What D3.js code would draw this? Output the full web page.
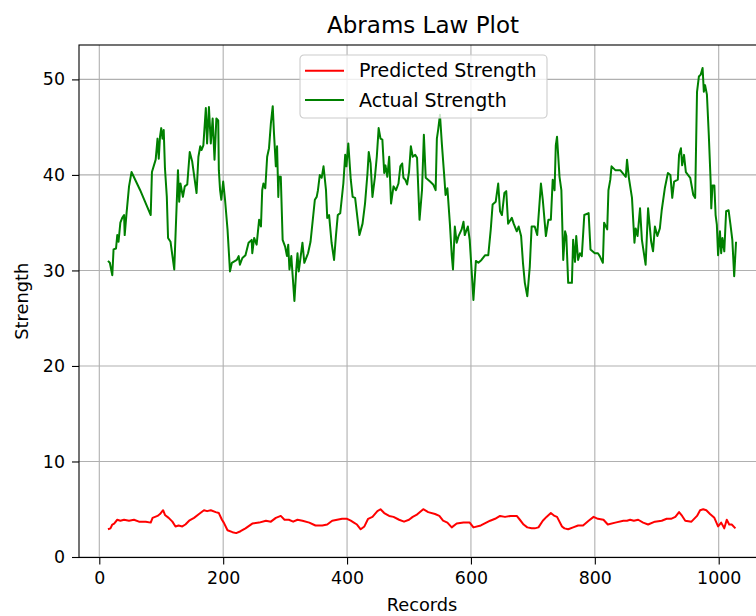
<!DOCTYPE html>
<html>
<head>
<meta charset="utf-8">
<script src="https://cdn.jsdelivr.net/npm/d3@7"></script>
<style>
    body { margin: 0; background: #fff; }
    svg { display: block; font-family: "DejaVu Sans", sans-serif; }
</style>
</head>
<body>
<div id="chart"></div>
<script>
// values
let xTicks = [0, 200, 400, 600, 800, 1000];
let yTicks = [0, 10, 20, 30, 40, 50];

let predictedRecords = [14, 18, 21, 24, 29, 34, 40, 48, 56, 64, 75, 83, 86, 94, 98, 103, 106, 112, 118, 123, 128, 134, 139,
    145, 153, 161, 169, 174, 180, 188, 193, 198, 201, 207, 215, 221, 228, 236, 247, 258, 269, 277, 285, 293, 299, 306, 313,
    320, 328, 339, 349, 360, 368, 376, 384, 392, 400, 406, 411, 416, 422, 428, 434, 441, 449, 454, 460, 468, 475, 484, 492,
    500, 506, 512, 523, 531, 542, 549, 555, 562, 569, 577, 588, 598, 604, 616, 631, 639, 647, 655, 664, 674, 679, 685, 691,
    698, 703, 709, 716, 722, 729, 735, 739, 747, 751, 757, 765, 773, 781, 790, 798, 805, 814, 821, 833, 846, 852, 857, 863,
    870, 878, 886, 897, 908, 916, 923, 930, 936, 941, 946, 956, 965, 970, 975, 980, 986, 993, 999, 1004, 1009, 1013, 1017,
    1021, 1027];
let predictedValues = [2.9, 3.0, 3.4, 3.5, 3.9, 3.8, 3.9, 3.8, 3.9, 3.7, 3.7, 3.6, 4.1, 4.3, 4.5, 4.9, 4.4, 4.1, 3.7, 3.2,
    3.3, 3.2, 3.4, 3.8, 4.1, 4.5, 4.9, 4.8, 4.9, 4.7, 4.6, 3.9, 3.6, 2.8, 2.6, 2.5, 2.7, 3.0, 3.5, 3.6, 3.8, 3.7, 4.1, 4.3,
    3.9, 3.9, 3.7, 3.9, 3.8, 3.6, 3.3, 3.3, 3.4, 3.8, 3.9, 4.0, 4.0, 3.8, 3.6, 3.4, 2.9, 3.2, 4.0, 4.2, 4.8, 5.0, 4.6, 4.3,
    4.2, 3.9, 3.7, 3.9, 4.2, 4.4, 5.0, 4.7, 4.5, 4.3, 3.8, 3.6, 3.1, 3.5, 3.6, 3.6, 3.1, 3.3, 3.8, 4.0, 4.3, 4.2, 4.3, 4.3,
    3.9, 3.4, 3.1, 3.0, 3.0, 3.1, 3.8, 4.2, 4.6, 4.3, 4.2, 3.2, 3.0, 2.9, 3.1, 3.3, 3.3, 3.8, 4.2, 4.0, 3.9, 3.4, 3.6, 3.8,
    3.8, 3.9, 3.8, 3.9, 3.6, 3.4, 3.7, 3.8, 4.0, 4.0, 4.2, 4.7, 4.3, 3.8, 3.7, 4.3, 4.9, 5.0, 4.9, 4.5, 4.1, 3.2, 3.6, 3.0,
    3.9, 3.4, 3.4, 3.0];

let actualRecords = [14, 17, 21, 23, 27, 29, 31, 34, 37, 40, 41, 44, 48, 52, 66, 83, 85, 91, 94, 96, 98, 100, 102, 104, 106,
    109, 111, 115, 121, 127, 129, 131, 135, 138, 142, 146, 150, 157, 160, 163, 165, 168, 172, 174, 177, 180, 183, 186, 189,
    192, 193, 195, 197, 200, 203, 207, 211, 214, 222, 225, 227, 231, 236, 241, 246, 247, 250, 254, 258, 261, 263, 265, 268,
    271, 274, 277, 280, 282, 285, 287, 289, 290, 293, 296, 300, 303, 305, 307, 310, 312, 315, 318, 320, 322, 328, 331, 337,
    341, 345, 348, 351, 353, 356, 359, 362, 366, 368, 371, 375, 379, 382, 385, 389, 394, 397, 399, 402, 406, 409, 413, 420,
    425, 429, 433, 435, 438, 441, 445, 448, 451, 454, 457, 460, 462, 465, 468, 471, 475, 479, 483, 486, 489, 491, 494, 497,
    500, 503, 506, 510, 513, 517, 521, 524, 527, 534, 539, 543, 545, 547, 550, 553, 557, 559, 562, 566, 569, 571, 574, 577,
    580, 585, 588, 590, 595, 598, 601, 604, 608, 612, 617, 623, 628, 632, 635, 640, 644, 647, 650, 654, 657, 660, 666, 669,
    674, 677, 681, 684, 687, 691, 695, 698, 703, 707, 713, 716, 721, 725, 729, 732, 735, 737, 739, 743, 746, 749, 752, 754,
    757, 763, 765, 768, 770, 773, 776, 779, 783, 790, 793, 800, 805, 808, 813, 815, 820, 822, 825, 827, 833, 841, 850, 852,
    855, 860, 864, 866, 869, 873, 876, 882, 886, 891, 894, 897, 901, 905, 908, 913, 918, 922, 925, 928, 934, 936, 939, 941,
    944, 947, 954, 959, 962, 965, 968, 971, 974, 976, 978, 981, 984, 987, 988, 990, 993, 995, 997, 999, 1002, 1004, 1006,
    1009, 1012, 1016, 1019, 1022, 1025, 1028];
let actualValues = [31.0, 30.8, 29.5, 32.2, 32.3, 33.7, 33.0, 35.0, 35.5, 35.8, 33.7, 36.0, 38.8, 40.3, 38.4, 35.8, 40.3,
    41.6, 43.8, 41.7, 44.0, 44.9, 43.8, 44.7, 40.7, 37.7, 33.4, 33.0, 30.1, 40.5, 37.2, 39.1, 37.7, 38.8, 39.0, 42.4, 41.4,
    38.1, 41.9, 43.0, 42.6, 43.1, 47.0, 43.3, 47.1, 43.3, 45.9, 41.6, 45.9, 45.7, 40.5, 38.4, 37.4, 39.3, 37.4, 34.3, 29.9,
    30.8, 31.1, 31.5, 30.6, 31.3, 31.6, 32.9, 33.2, 31.8, 33.4, 32.7, 35.3, 34.6, 38.4, 39.1, 38.6, 41.9, 42.8, 45.4, 47.2,
    44.4, 40.9, 43.0, 37.7, 39.8, 39.8, 33.2, 32.5, 31.5, 32.7, 30.1, 31.5, 29.6, 26.8, 30.1, 31.8, 29.9, 32.9, 30.8, 31.8,
    33.0, 35.5, 37.4, 37.7, 38.4, 40.0, 39.7, 40.9, 38.4, 35.5, 35.8, 32.9, 31.1, 33.6, 35.8, 36.0, 39.1, 42.1, 40.9, 43.3,
    39.5, 37.7, 37.6, 33.7, 34.9, 37.0, 40.2, 42.4, 41.2, 37.7, 39.8, 41.9, 44.9, 43.8, 43.7, 40.2, 41.0, 39.8, 41.9, 37.0,
    38.8, 38.4, 39.1, 40.9, 41.2, 39.7, 39.5, 39.0, 40.3, 43.0, 41.9, 42.1, 41.8, 35.3, 38.4, 44.2, 39.7, 39.3, 39.0, 38.4,
    43.8, 44.7, 46.3, 43.3, 39.8, 37.9, 38.6, 34.9, 31.6, 30.1, 34.6, 32.9, 33.6, 34.3, 35.1, 33.7, 34.6, 33.2, 30.1, 26.9,
    31.0, 30.8, 31.1, 31.6, 31.6, 34.3, 36.9, 37.2, 39.1, 36.2, 35.8, 38.1, 38.3, 34.9, 35.5, 34.9, 34.1, 34.6, 33.6, 30.8,
    28.7, 27.3, 30.4, 34.6, 34.6, 33.7, 39.1, 37.4, 33.6, 35.3, 35.3, 39.5, 38.4, 43.1, 44.0, 39.8, 38.4, 31.1, 34.1, 33.6,
    28.7, 28.7, 33.2, 30.9, 33.6, 31.1, 31.8, 31.5, 35.8, 36.0, 32.2, 31.8, 31.8, 31.5, 30.8, 35.0, 34.3, 38.4, 39.5, 40.9,
    40.5, 40.5, 39.8, 41.6, 39.7, 37.6, 32.9, 34.4, 33.6, 36.5, 33.2, 30.6, 36.5, 33.0, 32.0, 34.6, 33.6, 34.4, 36.3, 38.6,
    40.2, 40.0, 37.6, 39.3, 39.5, 42.1, 42.8, 41.0, 42.1, 40.3, 39.7, 37.9, 37.6, 48.7, 50.3, 50.5, 51.2, 48.7, 49.4, 48.4,
    44.2, 39.3, 36.5, 38.9, 38.9, 35.8, 34.8, 31.6, 34.1, 31.8, 33.4, 32.0, 36.2, 36.3, 34.8, 33.2, 29.4, 33.0];

let chartWidth = 756;
let chartHeight = 616;

// axes box (right edge falls outside the picture, as in the reference)
let plotLeft = 79,
    plotRight = 770,
    plotTop = 45,
    plotBottom = 557.5;

let tickFont = 17.4,
    labelFont = 17.8,
    legendFont = 19,
    titleFont = 23;

let x = d3.scaleLinear().domain([0, 1000]).range([99.3, 718.7]);
let y = d3.scaleLinear().domain([0, 50]).range([557, 79.4]);

let svg = d3.select("#chart").append("svg")
    .attr("width", chartWidth)
    .attr("height", chartHeight);

svg.append("defs").append("clipPath")
    .attr("id", "plot-clip")
    .append("rect")
    .attr("x", plotLeft)
    .attr("y", plotTop)
    .attr("width", plotRight - plotLeft)
    .attr("height", plotBottom - plotTop);

// grid
let grid = svg.append("g").attr("class", "grid");
grid.selectAll(".vgrid")
    .data(xTicks)
    .enter().append("line")
    .attr("x1", d => x(d)).attr("x2", d => x(d))
    .attr("y1", plotTop).attr("y2", plotBottom)
    .attr("stroke", "#b0b0b0")
    .attr("stroke-width", 1.1);
grid.selectAll(".hgrid")
    .data(yTicks)
    .enter().append("line")
    .attr("x1", plotLeft).attr("x2", plotRight)
    .attr("y1", d => y(d)).attr("y2", d => y(d))
    .attr("stroke", "#b0b0b0")
    .attr("stroke-width", 1.1);

// series
let line = d3.line()
    .x(d => x(d[0]))
    .y(d => y(d[1]));

let series = [
    {label: "Predicted Strength", color: "red", data: d3.zip(predictedRecords, predictedValues)},
    {label: "Actual Strength", color: "green", data: d3.zip(actualRecords, actualValues)}
];

svg.append("g")
    .attr("clip-path", "url(#plot-clip)")
    .selectAll("path")
    .data(series)
    .enter().append("path")
    .attr("fill", "none")
    .attr("stroke", d => d.color)
    .attr("stroke-width", 2)
    .attr("stroke-linejoin", "round")
    .attr("d", d => line(d.data));

// axes
let xAxis = svg.append("g")
    .attr("transform", "translate(0," + plotBottom + ")")
    .call(d3.axisBottom(x).tickValues(xTicks).tickSize(7).tickPadding(7).tickFormat(d3.format("d")));
let yAxis = svg.append("g")
    .attr("transform", "translate(" + plotLeft + ",0)")
    .call(d3.axisLeft(y).tickValues(yTicks).tickSize(7).tickPadding(7).tickFormat(d3.format("d")));

[xAxis, yAxis].forEach(function (ax) {
    ax.select(".domain").remove();
    ax.selectAll(".tick line").attr("stroke", "#000").attr("stroke-width", 1.1);
    ax.selectAll(".tick text")
        .attr("fill", "#000")
        .style("font-family", "DejaVu Sans")
        .style("font-size", tickFont + "px");
});

// spines
svg.append("rect")
    .attr("x", plotLeft)
    .attr("y", plotTop)
    .attr("width", plotRight - plotLeft)
    .attr("height", plotBottom - plotTop)
    .attr("fill", "none")
    .attr("stroke", "#000")
    .attr("stroke-width", 1.1);

// labels
svg.append("text")
    .attr("x", 423)
    .attr("y", 33)
    .attr("text-anchor", "middle")
    .style("font-size", titleFont + "px")
    .text("Abrams Law Plot");

svg.append("text")
    .attr("x", 422)
    .attr("y", 611)
    .attr("text-anchor", "middle")
    .style("font-size", labelFont + "px")
    .text("Records");

svg.append("text")
    .attr("transform", "translate(28," + ((plotTop + plotBottom) / 2) + ") rotate(-90)")
    .attr("text-anchor", "middle")
    .style("font-size", labelFont + "px")
    .text("Strength");

// legend
let legend = svg.append("g").attr("transform", "translate(300,55)");
legend.append("rect")
    .attr("width", 247)
    .attr("height", 63)
    .attr("rx", 4)
    .attr("fill", "#fff")
    .attr("fill-opacity", 0.8)
    .attr("stroke", "#cccccc")
    .attr("stroke-width", 1.1);

let item = legend.selectAll(".item")
    .data(series)
    .enter().append("g")
    .attr("transform", (d, i) => "translate(0," + (15.7 + i * 29.3) + ")");
item.append("line")
    .attr("x1", 5).attr("x2", 44)
    .attr("stroke", d => d.color)
    .attr("stroke-width", 2);
item.append("text")
    .attr("x", 59)
    .attr("dy", "0.35em")
    .style("font-size", legendFont + "px")
    .text(d => d.label);
</script>
</body>
</html>
